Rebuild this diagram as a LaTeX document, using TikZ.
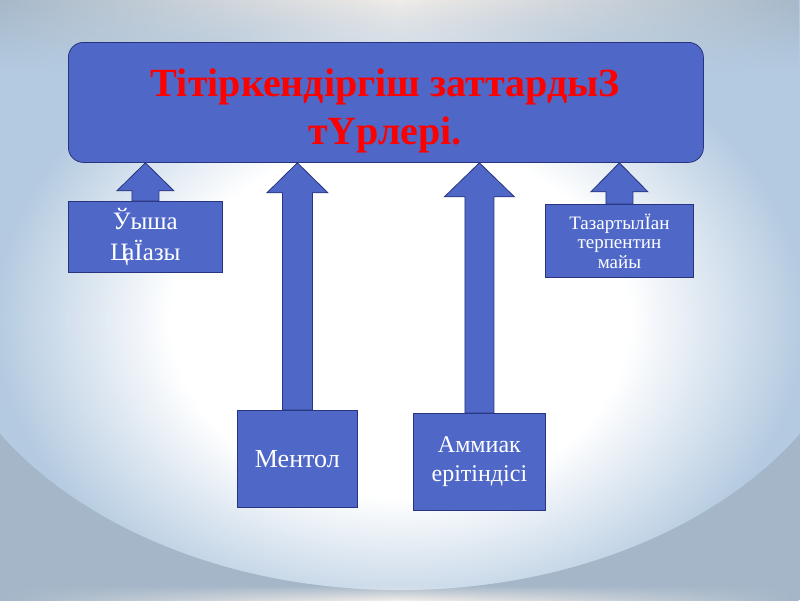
\documentclass[tikz,border=0pt]{standalone}
\usepackage{fontspec}
\setmainfont{Liberation Serif}
\usetikzlibrary{calc,fadings}
\definecolor{boxblue}{RGB}{79,104,200}
\definecolor{boxedge}{RGB}{40,52,125}
\definecolor{bgouter}{RGB}{164,182,200}
\definecolor{bgtop}{RGB}{166,184,201}
\definecolor{bgwarm}{RGB}{240,236,232}
\definecolor{bglight}{RGB}{180,202,224}
\definecolor{titlered}{RGB}{255,0,0}
\pgfdeclareradialshading{bgglow}{\pgfpoint{0bp}{0bp}}{color(0bp)=(white); color(13bp)=(white); color(23bp)=(bglight); color(50bp)=(bglight)}
\tikzset{
  box/.style={draw=boxedge, fill=boxblue, line width=0.8pt, text=white, align=center, inner sep=0pt, anchor=north west},
  arr/.style={draw=boxedge, fill=boxblue, line width=0.8pt, line join=miter},
  ttl/.style={text=titlered, font=\fontsize{40}{48}\selectfont\bfseries, anchor=base, inner sep=0pt},
}
% #1 from node, #2 to node, #3 head half width, #4 shaft half width, #5 head length
\newcommand\uparrowpoly[5]{%
  \path[arr] let \p1=(#1.north), \p2=(#2.south) in
    (\x1-#4pt,\y1) -- (\x1-#4pt,\y2-#5pt) -- (\x1-#3pt,\y2-#5pt) -- (\x1,\y2)
    -- (\x1+#3pt,\y2-#5pt) -- (\x1+#4pt,\y2-#5pt) -- (\x1+#4pt,\y1) -- cycle;}
\begin{document}
\begin{tikzpicture}[x=1pt,y=-1pt]
\useasboundingbox (0,0) rectangle (800,600);
% background
\fill[bglight] (0,0) rectangle (800,600);
\fill[bgouter] (0,300) rectangle (800,600);
\begin{scope}
  \clip (400,260) ellipse [x radius=470, y radius=330];
  \fill[bglight] (0,0) rectangle (800,600);
  \shade[shading=bgglow] (400,320) ellipse [x radius=440, y radius=340];
\end{scope}
\shade[left color=bgtop, right color=bgtop, middle color=bgwarm, path fading=south] (0,0) rectangle (800,70);
\shade[left color=bgouter, right color=bgouter, middle color=bgwarm, path fading=north] (0,585) rectangle (800,600);
% boxes
\node[box, rounded corners=15pt, minimum width=635pt, minimum height=120pt] (title) at (68,42) {};
\node[ttl] (t1) at (385,96) {Тітіркендіргіш заттардыЗ};
\node[ttl] (t2) at (385,144) {тҮрлері.};
\node[box, minimum width=154pt, minimum height=71pt, font=\fontsize{25}{31}\selectfont] (qysha) at (68,201) {Ўыша\\Ц\kern-5pt аЇазы};
\node[box, minimum width=120pt, minimum height=97pt, font=\fontsize{26}{31}\selectfont] (mentol) at (237,410) {Ментол};
\node[box, minimum width=132pt, minimum height=97pt, font=\fontsize{24}{29}\selectfont] (ammiak) at (413,413) {Аммиак\\ерітіндісі};
\node[box, minimum width=148pt, minimum height=73pt, font=\fontsize{19}{19.5}\selectfont] (terp) at (545,204) {ТазартылЇан\\терпентин\\майы};
% arrows
\uparrowpoly{qysha}{title}{28.5}{13.5}{28}
\uparrowpoly{mentol}{title}{30.5}{15}{30}
\uparrowpoly{ammiak}{title}{35}{14.5}{34}
\uparrowpoly{terp}{title}{28.5}{13.5}{29}
\end{tikzpicture}
\end{document}
